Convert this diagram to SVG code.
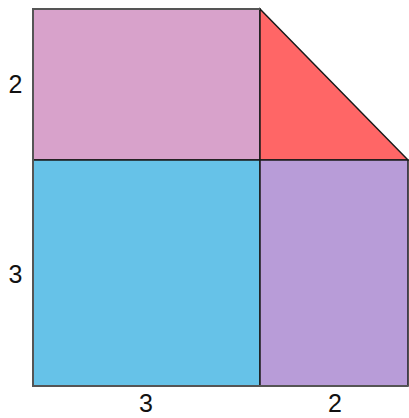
<svg xmlns="http://www.w3.org/2000/svg" width="409" height="418" viewBox="0 0 409 418">
<style>
.s{stroke:#1a1a1a;stroke-width:1.5;stroke-linejoin:miter}
.t{font-family:"Liberation Sans",Arial,sans-serif;font-size:25px;fill:#111;text-anchor:middle}
</style>
<g id="pink"><rect class="s" x="33" y="9" width="227" height="151" fill="#D8A2CB"/></g>
<g id="red"><polygon class="s" points="260,9 408,160 260,160" fill="#FF6666"/></g>
<g id="blue"><rect class="s" x="33" y="160" width="227" height="226" fill="#66C2E8"/></g>
<g id="purple"><rect class="s" x="260" y="160" width="148" height="226" fill="#B89CD8"/></g>
<g id="outline"><polyline points="260,9 33,9 33,386 408,386" fill="none" stroke="#555" stroke-width="2"/></g>
<g id="labels">
<text class="t" x="15.5" y="93">2</text>
<text class="t" x="15.5" y="283">3</text>
<text class="t" x="146" y="412">3</text>
<text class="t" x="335" y="412">2</text>
</g>
</svg>
